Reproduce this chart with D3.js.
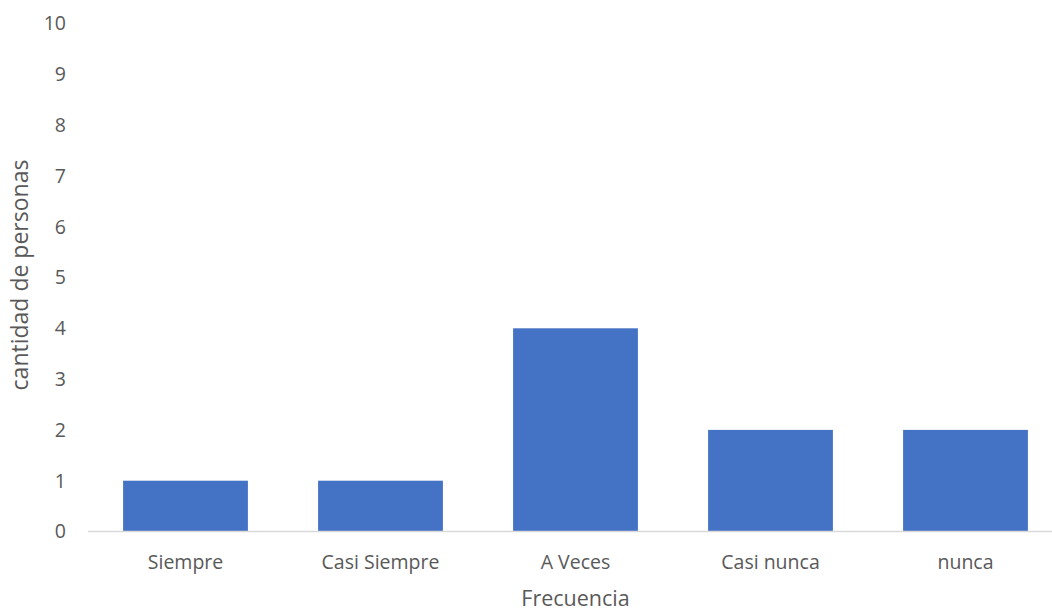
<!DOCTYPE html>
<html><head><meta charset="utf-8">
<script src="https://cdn.jsdelivr.net/npm/d3@7"></script>
<style>body{margin:0;background:#fff}svg{display:block}text{font-family:"Open Sans",sans-serif;fill:#595959}</style>
</head><body><svg id="c" width="1052" height="613"></svg>
<script>
const categories = ["Siempre","Casi Siempre","A Veces","Casi nunca","nunca"];
const values = [1,1,4,2,2];
const yTicks = [0,1,2,3,4,5,6,7,8,9,10];
const xTitle = "Frecuencia";
const yTitle = "cantidad de personas";

const svg = d3.select("#c");
const x = d3.scaleBand().domain(categories).range([88,1063]).paddingInner(0.36).paddingOuter(0.18);
const y = d3.scaleLinear().domain([0,10]).range([531.5,23.5]);

svg.append("g").selectAll("rect").data(values).join("rect")
  .attr("x",(d,i)=>x(categories[i])).attr("width",x.bandwidth())
  .attr("y",d=>y(d)).attr("height",d=>y(0)-y(d)).attr("fill","#4472C4");

svg.append("line").attr("x1",88).attr("x2",1063).attr("y1",y(0)).attr("y2",y(0))
  .attr("stroke","#d9d9d9").attr("stroke-width",1.5);

svg.append("g").selectAll("text").data(yTicks).join("text")
  .attr("x",66).attr("y",d=>y(d)).attr("dy","0.35em").attr("text-anchor","end")
  .attr("font-size",19.5).text(d=>d);

svg.append("g").selectAll("text").data(categories).join("text")
  .attr("x",d=>x(d)+x.bandwidth()/2).attr("y",562).attr("dy","0.35em").attr("text-anchor","middle")
  .attr("font-size",19.5).text(d=>d);

svg.append("text").attr("x",575.5).attr("y",606).attr("text-anchor","middle")
  .attr("font-size",21.5).text(xTitle);
svg.append("text").attr("transform","translate(20,275) rotate(-90)").attr("dy","0.35em").attr("text-anchor","middle")
  .attr("font-size",23).text(yTitle);
</script></body></html>
